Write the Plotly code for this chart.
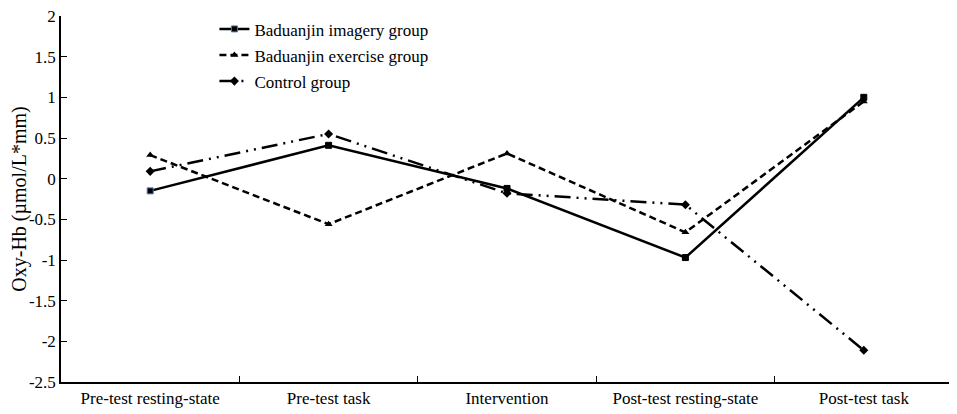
import plotly.graph_objects as go

# data
phases = ["Pre-test resting-state", "Pre-test task", "Intervention",
          "Post-test resting-state", "Post-test task"]
imagery = [-0.15, 0.41, -0.12, -0.97, 1.00]
exercise = [0.29, -0.56, 0.31, -0.66, 0.95]
control = [0.09, 0.55, -0.18, -0.32, -2.11]

y_ticks = [2, 1.5, 1, 0.5, 0, -0.5, -1, -1.5, -2, -2.5]
y_labels = ["2", "1.5", "1", "0.5", "0", "-0.5", "-1", "-1.5", "-2", "-2.5"]

serif = "Liberation Serif"

fig = go.Figure()

fig.add_trace(go.Scatter(
    x=phases, y=imagery, name="Baduanjin imagery group", legendgroup="a",
    mode="lines+markers",
    line=dict(color="black", width=2.5),
    marker=dict(symbol="square", size=6, color="black",
                line=dict(width=1, color=["#4a7ab8", "black", "black", "black", "black"])),
))
fig.add_trace(go.Scatter(
    x=phases, y=exercise, name="Baduanjin exercise group", legendgroup="b",
    mode="lines+markers",
    line=dict(color="black", width=2.5, dash="7px,4px"),
    marker=dict(symbol="triangle-up", size=7, color="black"),
))
fig.add_trace(go.Scatter(
    x=phases, y=control, name="Control group", legendgroup="c",
    mode="lines+markers",
    line=dict(color="black", width=2.5, dash="16px,6px,2px,6px,2px,6px"),
    marker=dict(symbol="diamond", size=7, color="black"),
))

# the page adds an 8px body margin, so the figure is a bit smaller
fig.update_layout(
    width=949, height=406,
    margin=dict(l=53, r=4, t=7, b=32),
    plot_bgcolor="white", paper_bgcolor="white",
    font=dict(family=serif, size=17, color="black"),
    legend=dict(x=0.172, y=1.01, xanchor="left", yanchor="top",
                bgcolor="rgba(0,0,0,0)", tracegroupgap=1,
                font=dict(family=serif, size=17)),
)

fig.update_xaxes(
    range=[-0.5, 4.5], showline=True, linecolor="black", linewidth=1.5,
    ticks="inside", tickson="boundaries", ticklen=6, tickcolor="black",
    showgrid=False, zeroline=False, automargin=False,
    ticklabeloverflow="allow",
)
fig.update_yaxes(
    range=[-2.5, 2], tickvals=y_ticks, ticktext=y_labels,
    showline=True, linecolor="black", linewidth=1.5,
    ticks="inside", ticklen=6, tickcolor="black",
    showgrid=False, zeroline=False, automargin=False,
    ticklabeloverflow="allow",
    title=dict(text="Oxy-Hb (µmol/L*mm)", standoff=0),
)

fig.write_html("out.html")
